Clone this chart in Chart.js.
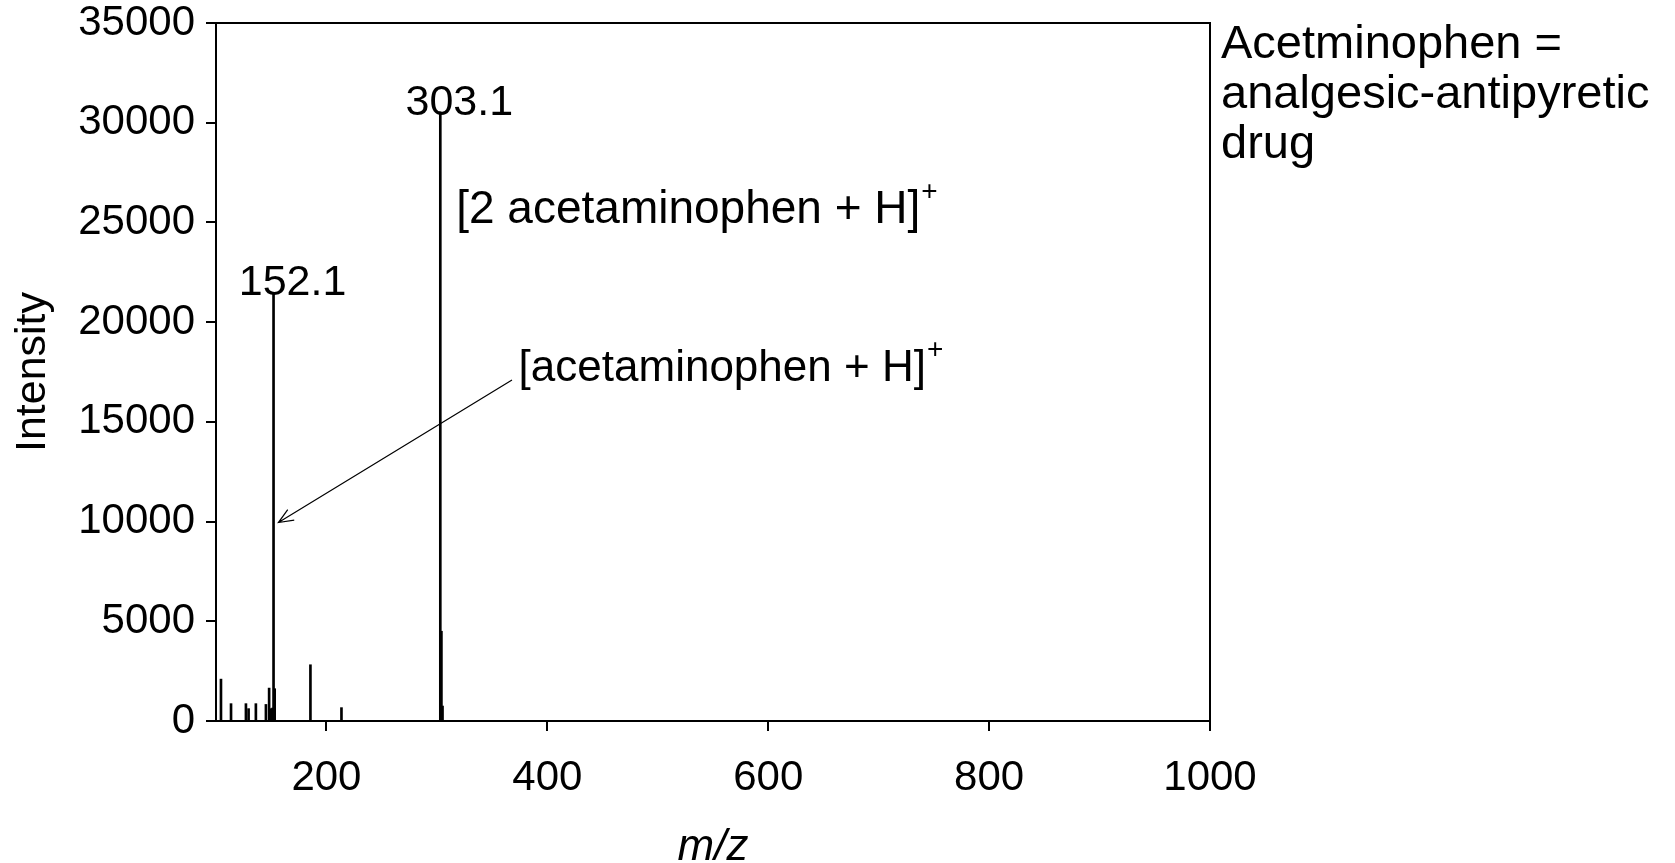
<!DOCTYPE html>
<html>
<head>
<meta charset="utf-8">
<title>Acetaminophen mass spectrum</title>
<script src="https://cdn.jsdelivr.net/npm/chart.js@4.4.1/dist/chart.umd.min.js"></script>
<style>
  html, body { margin: 0; padding: 0; background: #fff; }
  #wrap { width: 1675px; height: 863px; }
</style>
</head>
<body>
<div id="wrap"><canvas id="chart-ms"></canvas></div>
<script>
// peaks
var mz = [104.5, 113.6, 127.1, 129.5, 136.1, 145.2, 148.1, 150.0, 151.2, 152.1, 153.1, 185.5, 213.6, 303.1, 304.1, 305.1];
var intensity = [2100, 870, 870, 620, 870, 830, 1650, 620, 650, 21500, 1620, 2820, 670, 30550, 4500, 750];

var xTicks = [200, 400, 600, 800, 1000];
var yTicks = [0, 5000, 10000, 15000, 20000, 25000, 30000, 35000];

var peakLabels = ["152.1", "303.1"];
var ionLabels = ["[2 acetaminophen + H]", "[acetaminophen + H]"];
var noteLines = ["Acetminophen =", "analgesic-antipyretic", "drug"];

(function () {
  if (typeof Chart === "undefined") return;

  var FONT = "'Liberation Sans', Arial, sans-serif";
  var black = "#000";

  // where the text sits, in data units of the plot
  var peakLabelAt = [{ x: 152.1, y: 21500 }, { x: 303.1, y: 30550 }];
  var ionLabelAt = [{ x: 317.5, y: 24950, size: 46 }, { x: 374, y: 17050, size: 44 }];
  var arrow = { from: { x: 368, y: 17100 }, to: { x: 156.5, y: 9950 } };

  var overlay = {
    id: "overlay",
    afterDraw: function (chart) {
      var ctx = chart.ctx;
      var a = chart.chartArea;
      var xs = chart.scales.x;
      var ys = chart.scales.y;

      ctx.save();
      ctx.strokeStyle = black;
      ctx.fillStyle = black;

      // top and right sides of the frame
      ctx.lineWidth = 2;
      ctx.beginPath();
      ctx.moveTo(a.left - 1, a.top);
      ctx.lineTo(a.right, a.top);
      ctx.lineTo(a.right, a.bottom);
      ctx.stroke();

      // peak m/z labels
      ctx.font = "43px " + FONT;
      ctx.textAlign = "center";
      ctx.textBaseline = "alphabetic";
      peakLabels.forEach(function (txt, i) {
        var p = peakLabelAt[i];
        ctx.fillText(txt, xs.getPixelForValue(p.x) + 19, ys.getPixelForValue(p.y) + 3);
      });

      // ion labels with superscript +
      ctx.textAlign = "left";
      ionLabels.forEach(function (txt, i) {
        var p = ionLabelAt[i];
        var px = xs.getPixelForValue(p.x);
        var py = ys.getPixelForValue(p.y);
        ctx.font = p.size + "px " + FONT;
        ctx.fillText(txt, px, py);
        var w = ctx.measureText(txt).width;
        ctx.font = "28px " + FONT;
        ctx.fillText("+", px + w + 1, py - 23);
      });

      // arrow to the 152.1 peak
      var x0 = xs.getPixelForValue(arrow.from.x), y0 = ys.getPixelForValue(arrow.from.y);
      var x1 = xs.getPixelForValue(arrow.to.x), y1 = ys.getPixelForValue(arrow.to.y);
      var ang = Math.atan2(y1 - y0, x1 - x0);
      ctx.lineWidth = 1.2;
      ctx.beginPath();
      ctx.moveTo(x0, y0);
      ctx.lineTo(x1, y1);
      ctx.moveTo(x1 - 16 * Math.cos(ang - 0.4), y1 - 16 * Math.sin(ang - 0.4));
      ctx.lineTo(x1, y1);
      ctx.lineTo(x1 - 16 * Math.cos(ang + 0.4), y1 - 16 * Math.sin(ang + 0.4));
      ctx.stroke();

      // side note
      ctx.font = "47px " + FONT;
      noteLines.forEach(function (txt, i) {
        ctx.fillText(txt, a.right + 11, a.top + 35 + i * 50);
      });

      ctx.restore();
    },
  };

  function plain(v) { return String(v); }

  new Chart(document.getElementById("chart-ms"), {
    type: "bar",
    data: {
      datasets: [{
        data: mz.map(function (m, i) { return { x: m, y: intensity[i] }; }),
        backgroundColor: black,
        borderWidth: 0,
        barThickness: 2,
      }],
    },
    plugins: [overlay],
    options: {
      responsive: true,
      maintainAspectRatio: false,
      animation: false,
      events: [],
      layout: { padding: { top: 23, right: 465, bottom: 0, left: 0 } },
      plugins: { legend: { display: false }, tooltip: { enabled: false } },
      scales: {
        x: {
          type: "linear",
          min: 100,
          max: 1000,
          offset: false,
          afterBuildTicks: function (axis) {
            axis.ticks = xTicks.map(function (v) { return { value: v }; });
          },
          afterFit: function (axis) {
            axis.height = 142;
            axis.paddingLeft = 0;
            axis.paddingRight = 0;
          },
          grid: { offset: false, drawOnChartArea: false, drawTicks: true, tickLength: 10, color: black, lineWidth: 2 },
          border: { display: true, color: black, width: 2 },
          ticks: { color: black, padding: 22, maxRotation: 0, callback: plain, font: { family: FONT, size: 42 } },
          title: {
            display: true,
            text: "m/z",
            color: black,
            padding: { top: 0, bottom: -7 },
            font: { family: FONT, size: 44, style: "italic", lineHeight: 1 },
          },
        },
        y: {
          min: 0,
          max: 35000,
          afterBuildTicks: function (axis) {
            axis.ticks = yTicks.map(function (v) { return { value: v }; });
          },
          afterFit: function (axis) {
            axis.width = 216;
            axis.paddingTop = 0;
            axis.paddingBottom = 0;
          },
          grid: { drawOnChartArea: false, drawTicks: true, tickLength: 10, color: black, lineWidth: 2 },
          border: { display: true, color: black, width: 2 },
          ticks: { color: black, padding: 11, callback: plain, font: { family: FONT, size: 42 } },
          title: {
            display: true,
            text: "Intensity",
            color: black,
            padding: { top: 7, bottom: 0 },
            font: { family: FONT, size: 43, lineHeight: 1.2 },
          },
        },
      },
    },
  });
})();
</script>
</body>
</html>
